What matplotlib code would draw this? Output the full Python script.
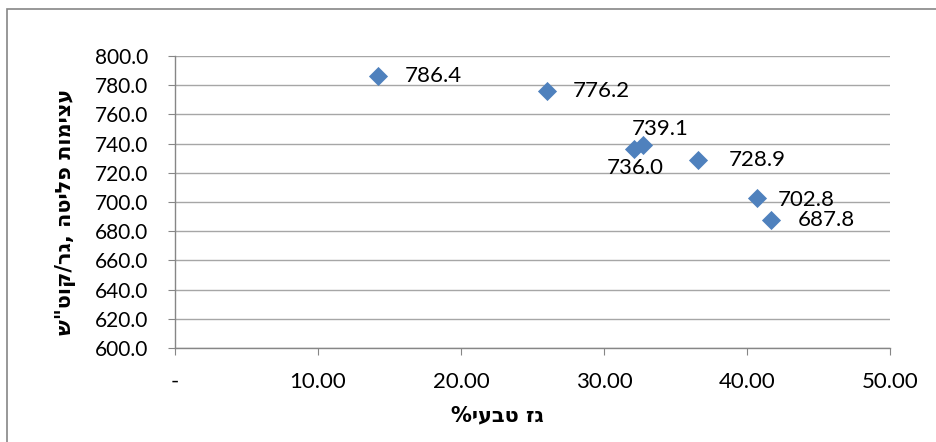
import matplotlib
matplotlib.use("Agg")
import matplotlib.pyplot as plt
from matplotlib.patches import Rectangle
from matplotlib.ticker import FuncFormatter, MultipleLocator

# Data
gas_share = [14.2, 26.0, 32.1, 32.7, 36.6, 40.7, 41.7]
intensity = [786.4, 776.2, 736.0, 739.1, 728.9, 702.8, 687.8]
point_labels = ["786.4", "776.2", "736.0", "739.1", "728.9", "702.8", "687.8"]
x_title = "גז טבעי%"
y_title = "עצימות פליטה ,גר/קוט\"ש"

# label offsets in pixels (dx, dy, ha, va)
offsets = [(27, 0, "left", "center"), (26, 0, "left", "center"),
           (1, -9, "center", "top"), (-11, 6, "left", "bottom"),
           (30, 0, "left", "center"), (21, -2, "left", "center"),
           (26, 0, "left", "center")]

W, H = 936, 442
fig = plt.figure(figsize=(W / 100, H / 100), dpi=100)
fam = ["Lato", "DejaVu Sans"]
plt.rcParams["font.family"] = fam

# outer chart border
fig.patches.append(Rectangle((7 / W, -0.1), 1.2, 1 - 9 / H + 0.1, transform=fig.transFigure,
                             fill=False, edgecolor="#868686", linewidth=1.2))

ax = fig.add_axes([175 / W, 1 - 348 / H, (890 - 175) / W, (348 - 56) / H])
ax.set_xlim(0, 50)
ax.set_ylim(600, 800)
ax.yaxis.set_major_locator(MultipleLocator(20))
ax.xaxis.set_major_locator(MultipleLocator(10))
ax.yaxis.set_major_formatter(FuncFormatter(lambda v, p: f"{v:.1f}"))
ax.xaxis.set_major_formatter(FuncFormatter(lambda v, p: "-" if abs(v) < 1e-9 else f"{v:.2f}"))
ax.grid(axis="y", color="#A6A6A6", linewidth=1)
ax.set_axisbelow(True)
for s in ["top", "right"]:
    ax.spines[s].set_visible(False)
for s in ["left", "bottom"]:
    ax.spines[s].set_color("#868686")
    ax.spines[s].set_linewidth(1)
ax.tick_params(axis="x", direction="out", length=5, color="#868686", pad=12, labelsize=16)
ax.tick_params(axis="y", direction="out", length=5, color="#868686", pad=14, labelsize=15)

ax.scatter(gas_share, intensity, marker="D", s=95, color="#4F81BD", zorder=3, linewidths=0)

for x, y, lab, (dx, dy, ha, va) in zip(gas_share, intensity, point_labels, offsets):
    ax.annotate(lab, (x, y), xytext=(dx, dy), textcoords="offset pixels",
                ha=ha, va=va, fontsize=16, color="black", zorder=4)

fig.text(497 / W, 1 - 415 / H, x_title[::-1], ha="center", va="center",
         fontsize=15, fontweight="bold", family=["DejaVu Sans"])
fig.text(65 / W, 1 - 212 / H, y_title[::-1], ha="center", va="center", rotation=90,
         fontsize=15, fontweight="bold", family=["DejaVu Sans"])

fig.savefig("out.png", dpi=100)
